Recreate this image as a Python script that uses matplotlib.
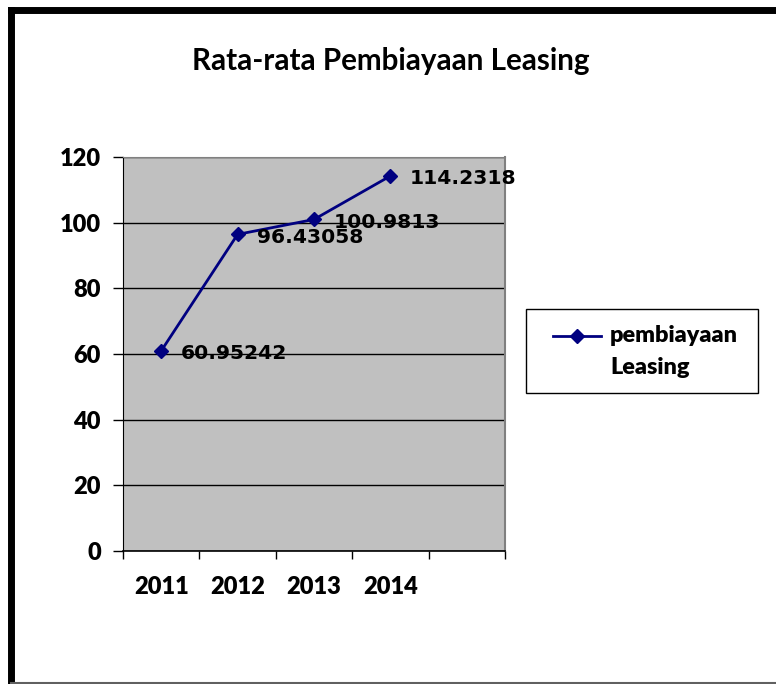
import matplotlib
matplotlib.use("Agg")
import matplotlib.pyplot as plt
from matplotlib.lines import Line2D
from matplotlib.patches import Rectangle

years = ["2011", "2012", "2013", "2014"]
values = [60.95242, 96.43058, 100.9813, 114.2318]
value_labels = ["60.95242", "96.43058", "100.9813", "114.2318"]
y_ticks = [0, 20, 40, 60, 80, 100, 120]
title = "Rata-rata Pembiayaan Leasing"
legend_lines = ["pembiayaan", "Leasing"]

plt.rcParams["font.family"] = ["Lato", "DejaVu Sans"]
plt.rcParams["font.weight"] = "heavy"

W, H = 776, 684
fig = plt.figure(figsize=(W / 100, H / 100), dpi=100)
fig.patch.set_facecolor("white")

ax = fig.add_axes([123 / W, 1 - 551 / H, (505 - 123) / W, (551 - 157) / H])
ax.set_facecolor("#C0C0C0")

xs = list(range(len(years)))
navy = "#000080"
line, = ax.plot(xs, values, color=navy, lw=2, marker="D", markersize=7, zorder=3)

for x, v, lab in zip(xs, values, value_labels):
    ax.annotate(lab, (x, v), xytext=(14, -2), textcoords="offset points",
                ha="left", va="center", fontsize=14.6, fontweight="bold",
                family="DejaVu Sans", color="black", zorder=4)

ax.set_xlim(-0.5, 4.5)
ax.set_ylim(0, 120)
ax.set_yticks(y_ticks)
ax.yaxis.grid(True, color="black", lw=1)
ax.set_axisbelow(True)

ax.set_xticks([i - 0.5 for i in range(6)])
ax.set_xticklabels([""] * 6)
ax.set_xticks(xs, minor=True)
ax.set_xticklabels(years, minor=True, fontsize=17, fontweight="heavy")
ax.set_yticklabels([str(t) for t in y_ticks], fontsize=17, fontweight="heavy")
ax.tick_params(axis="x", which="major", direction="out", length=6, width=1, color="black")
ax.tick_params(axis="x", which="minor", length=0, pad=18)
ax.tick_params(axis="y", direction="out", length=7, width=1, color="black", pad=9)

ax.spines["left"].set_color("black")
ax.spines["bottom"].set_color("black")
ax.spines["bottom"].set_linewidth(1.2)
ax.spines["top"].set_color("#808080")
ax.spines["right"].set_color("#808080")
ax.spines["right"].set_linewidth(1.5)

fig.text(391 / W, 1 - 61 / H, title, ha="center", va="center",
         fontsize=21.3, fontweight="bold")

# legend box
fig.add_artist(Rectangle((526 / W, 1 - 393 / H), (758 - 526) / W, (393 - 309) / H,
                         transform=fig.transFigure, facecolor="white",
                         edgecolor="black", lw=1))
fig.add_artist(Line2D([553 / W, 601 / W], [1 - 336 / H, 1 - 336 / H], color=navy, lw=2,
                      transform=fig.transFigure))
fig.add_artist(Line2D([577 / W], [1 - 336 / H], color=navy, lw=0,
                      marker="D", markersize=7, transform=fig.transFigure))
fig.text(610 / W, 1 - 336 / H, legend_lines[0], ha="left", va="center",
         fontsize=16.8, fontweight="heavy")
fig.text(610 / W, 1 - 367 / H, legend_lines[1], ha="left", va="center",
         fontsize=16.8, fontweight="heavy")

# outer frame
fig.add_artist(Line2D([11 / W, 11 / W], [0, 1 - 10 / H], color="black", lw=5, transform=fig.transFigure))
fig.add_artist(Line2D([11 / W, 1], [1 - 10 / H, 1 - 10 / H], color="black", lw=5, transform=fig.transFigure))
fig.add_artist(Line2D([11 / W, 1], [1 - 682.5 / H, 1 - 682.5 / H], color="#606060", lw=1.5, transform=fig.transFigure))

fig.savefig("out.png", dpi=100)
